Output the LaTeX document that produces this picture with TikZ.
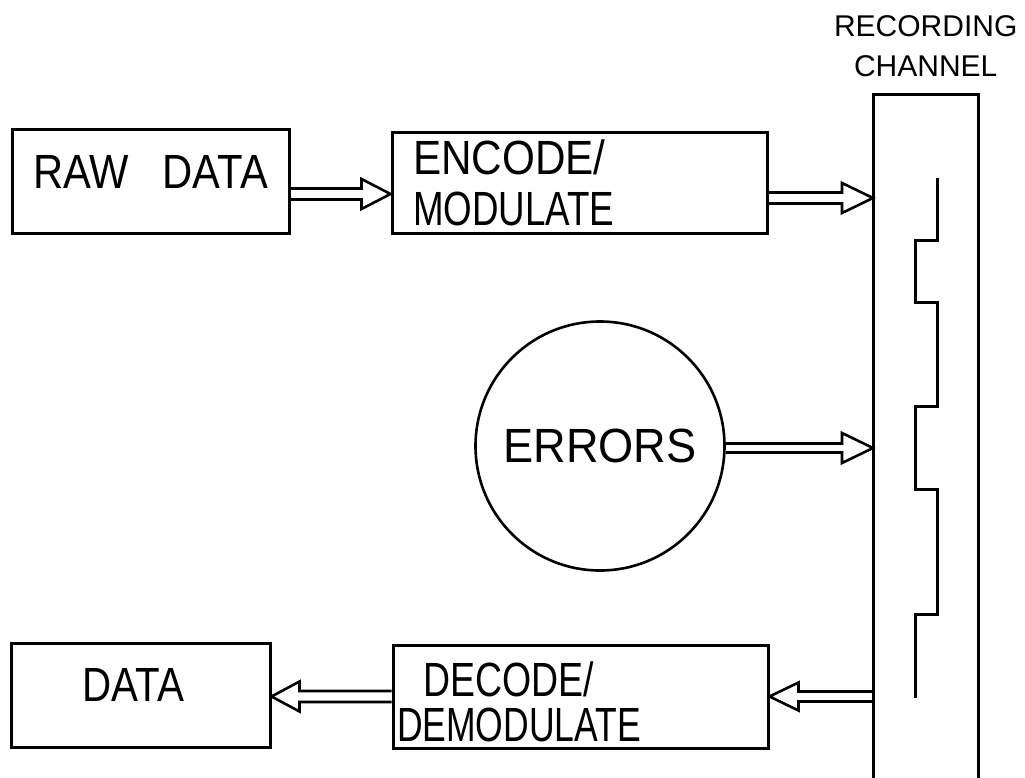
\documentclass[tikz,border=0pt]{standalone}
\usepackage{fontspec}
\setmainfont{Liberation Sans}
\usetikzlibrary{calc}

% Hollow double-line arrow between two points, horizontal, at the start's height.
% #1 start, #2 target, #3 half gap of the shaft, #4 head length, #5 head half width
\newcommand\hollowarrow[5]{%
  \draw[conn] let \p1=(#1), \p2=(#2), \n1={sign(\x2-\x1)}, \n2={\x2-\n1*#4} in
    (\x1,{\y1+#3}) -- (\n2,{\y1+#3}) -- (\n2,{\y1+#5}) -- (\x2,\y1)
    -- (\n2,{\y1-#5}) -- (\n2,{\y1-#3}) -- (\x1,{\y1-#3});}

\tikzset{
  box/.style={draw, line width=3pt, inner sep=0pt, line join=miter,
    font={\fontsize{48}{51}\selectfont}},
  conn/.style={line width=2.6pt, line join=miter},
  wave/.style={line width=3pt, line join=miter},
  chanline/.style={line width=3pt, line join=miter},
}

\begin{document}
\begin{tikzpicture}[x=1pt, y=-1pt]
  \useasboundingbox (0,0) rectangle (1025,778);

  % processing blocks
  \node[box, minimum width=277pt, minimum height=103pt, text depth=19pt]
    (raw) at (150.5,181.5) {\scalebox{0.87}[1]{RAW\hspace{39pt}DATA}};
  \node[box, minimum width=375pt, minimum height=100pt, inner xsep=21pt,
    text width=333pt, align=left]
    (enc) at (579.5,183) {\scalebox{0.88}[1]{ENCODE/}\\\scalebox{0.765}[1]{MODULATE}};
  \node[box, minimum width=375pt, minimum height=103pt, inner xsep=4pt,
    text width=367pt, align=left, text height=46pt,
    font={\fontsize{48}{45}\selectfont}]
    (dec) at (580.5,696.5) {\hspace*{26pt}\scalebox{0.78}[1]{DECODE/}\\\scalebox{0.74}[1]{DEMODULATE}};
  \node[box, minimum width=259pt, minimum height=104pt, text depth=20pt]
    (data) at (140.5,695) {\scalebox{0.84}[1]{DATA}\hspace*{14pt}};
  \node[draw, circle, line width=2.6pt, minimum size=249pt, inner sep=0pt,
    font={\fontsize{48}{51}\selectfont}]
    (err) at (600,446) {\scalebox{0.94}[1]{ERRORS}};

  % recording channel: open-ended strip running off the bottom
  \node[minimum width=105pt, minimum height=683pt, inner sep=0pt, anchor=north west]
    (chan) at (873,95) {};
  \draw[chanline] (chan.south west) |- (chan.north east) -- (chan.south east);
  \node[anchor=south, inner sep=0pt, align=center, font={\fontsize{30}{40}\selectfont}]
    (chanlbl) at ([yshift=18pt]chan.north) {RECORDING\\CHANNEL};

  % recorded waveform inside the channel
  \draw[wave] (937,178) -- (937,240) -- (915,240) -- (915,302) -- (937,302)
    -- (937,406) -- (915,406) -- (915,489) -- (937,489) -- (937,614)
    -- (915,614) -- (915,698);

  % data flow
  \hollowarrow{$(raw.east)+(0pt,-12.5pt)$}{enc.west}{5.5pt}{29pt}{15pt}
  \hollowarrow{$(enc.east)+(0pt,-15pt)$}{chan.west}{5.5pt}{31pt}{15pt}
  \hollowarrow{$(err.east)+(0pt,-2pt)$}{chan.west}{4.5pt}{31pt}{15pt}
  \hollowarrow{chan.west |- dec.east}{dec.east}{5pt}{29pt}{14pt}
  \hollowarrow{dec.west}{data.east}{5.5pt}{28pt}{15pt}
\end{tikzpicture}
\end{document}
